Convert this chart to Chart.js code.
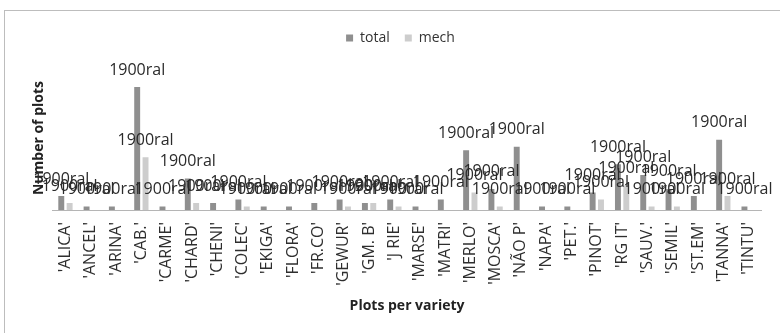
<!DOCTYPE html>
<html>
<head>
<meta charset="utf-8">
<script src="https://cdn.jsdelivr.net/npm/chart.js@4"></script>
<style>
  body { margin: 0; background: #fff; }
  #wrap { position: relative; width: 780px; height: 333px; overflow: hidden; }
  #frame { position: absolute; left: 4px; top: 10px; width: 800px; height: 340px; border: 1px solid #bdbdbd; }
  canvas { position: absolute; left: 0; top: 0; }
</style>
</head>
<body>
<div id="wrap">
  <div id="frame"></div>
  <canvas id="plots" width="780" height="333"></canvas>
</div>
<script>
const categories = ["'ALICA'", "'ANCEL'", "'ARINA'", "'CAB.'", "'CARME'", "'CHARD'", "'CHENI'", "'COLEC'",
  "'EKIGA'", "'FLORA'", "'FR.CO'", "'GEWUR'", "'GM. B'", "'J RIE'", "'MARSE'", "'MATRI'", "'MERLO'",
  "'MOSCA'", "'NÃO P'", "'NAPA'", "'PET.'", "'PINOT'", "'RG IT'", "'SAUV.'", "'SEMIL'", "'ST.EM'",
  "'TANNA'", "'TINTU'"];
const total = [4, 1, 1, 35, 1, 9, 2, 3, 1, 1, 2, 3, 2, 3, 1, 3, 17, 6, 18, 1, 1, 5, 13, 10, 6, 4, 20, 1];
const mech = [2, 0, 0, 15, 0, 2, 0, 1, 0, 0, 0, 1, 2, 1, 0, 0, 5, 1, 0, 0, 0, 3, 7, 1, 1, 0, 4, 0];
const labelText = '1900ral';

// the odd excel labels sit above every non-zero bar
const barLabels = {
  id: 'barLabels',
  afterDatasetsDraw(chart) {
    const ctx = chart.ctx;
    ctx.save();
    ctx.font = '16px "Open Sans"';
    ctx.fillStyle = '#2b2b2b';
    ctx.textAlign = 'center';
    ctx.textBaseline = 'middle';
    chart.data.datasets.forEach((ds, i) => {
      chart.getDatasetMeta(i).data.forEach((bar, j) => {
        if (ds.data[j] > 0) ctx.fillText(labelText, bar.x, bar.y - 17);
      });
    });
    ctx.restore();
  }
};

// a bit more room under the legend
const legendGap = {
  id: 'legendGap',
  beforeInit(chart) {
    const fit = chart.legend.fit;
    chart.legend.fit = function () {
      fit.bind(chart.legend)();
      this.height += 11;
    };
  }
};

new Chart(document.getElementById('plots'), {
  type: 'bar',
  data: {
    labels: categories,
    datasets: [
      { label: 'total', data: total, backgroundColor: '#8f8f8f', categoryPercentage: 0.66, barPercentage: 0.71 },
      { label: 'mech', data: mech, backgroundColor: '#cdcdcd', categoryPercentage: 0.66, barPercentage: 0.71 }
    ]
  },
  options: {
    responsive: false,
    animation: false,
    layout: { padding: { top: 16, left: 31, right: 10, bottom: 19 } },
    plugins: {
      tooltip: { enabled: false },
      legend: {
        position: 'top',
        labels: { boxWidth: 7, boxHeight: 7, padding: 15, color: '#333', font: { family: 'Open Sans', size: 14 } }
      }
    },
    scales: {
      x: {
        afterFit: (scale) => { scale.height = 104; },
        grid: { display: false, drawTicks: false },
        border: { color: '#b5b5b5' },
        ticks: {
          autoSkip: false, minRotation: 90, maxRotation: 90, padding: 12,
          color: '#2e2e2e', font: { family: 'Open Sans', size: 16 }
        },
        title: {
          display: true, text: 'Plots per variety', color: '#222',
          font: { family: 'Open Sans', size: 14, weight: 'bold' }, padding: { top: 4, bottom: 0 }
        }
      },
      y: {
        min: 0,
        max: 41,
        grid: { display: false, drawTicks: false },
        border: { display: false },
        ticks: { display: false },
        title: {
          display: true, text: 'Number of plots', color: '#222',
          font: { family: 'Open Sans', size: 14, weight: 'bold' }, padding: { top: 0, bottom: 5 }
        }
      }
    }
  },
  plugins: [barLabels, legendGap]
});
</script>
</body>
</html>
